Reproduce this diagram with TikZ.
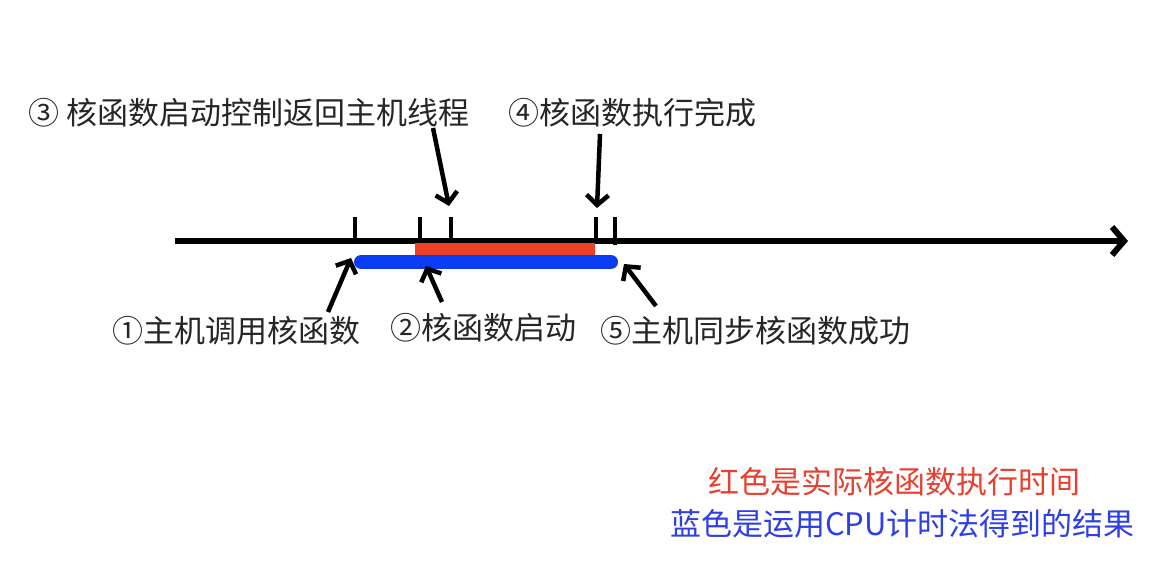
\documentclass[tikz,border=0pt]{standalone}
\usepackage{fontspec}
\newfontfamily\cjk{Noto Sans CJK SC}
\usetikzlibrary{arrows.meta}
\definecolor{kred}{HTML}{EA4127}
\definecolor{kblue}{HTML}{0A3CF5}
\definecolor{tred}{HTML}{E8402E}
\definecolor{tblue}{HTML}{2F3FE8}
\tikzset{
  lbl/.style={inner sep=0pt, anchor=west, font=\cjk\fontsize{31}{37}\selectfont, text=black!85},
  tick/.style={line width=4pt},
  ptr/.style={line width=4.5pt, -{Straight Barb[length=10pt,width=22pt,line width=4.5pt]}},
}
\begin{document}
\begin{tikzpicture}[x=1pt,y=-1pt]
\useasboundingbox[fill=white] (0,0) rectangle (1166,580);
% main axis
\coordinate (ax0) at (175,241);
\coordinate (ax1) at (1128,241);
\draw[line width=6pt, -{Straight Barb[length=12pt,width=28pt,line width=6pt]}] (ax0) -- (ax1);
% bars
\coordinate (b0) at (361,262);
\coordinate (b1) at (611,262);
\fill[kred] (415,243) rectangle (595,255);
\draw[kblue, line width=14pt, line cap=round] (b0) -- (b1);
% ticks
\foreach \x in {355,420,451,596}{\draw[tick] (\x,217) -- (\x,241);}
\draw[tick] (615,217) -- (615,245);
% labels
\node[lbl] (t3) at (28,113) {③ 核函数启动控制返回主机线程};
\node[lbl] (t4) at (508,113) {④核函数执行完成};
\node[lbl] (t1) at (112,331) {①主机调用核函数};
\node[lbl] (t2) at (390,328) {②核函数启动};
\node[lbl] (t5) at (600,331) {⑤主机同步核函数成功};
\node[lbl, text=tred] (lr) at (708,482) {红色是实际核函数执行时间};
\node[lbl, text=tblue] (lb) at (670,524) {蓝色是运用CPU计时法得到的结果};
% pointers
\coordinate (p3a) at (433,128);
\coordinate (p3b) at (449,206);
\coordinate (p4a) at (600,134);
\coordinate (p4b) at (597,208);
\coordinate (p1a) at (328,312);
\coordinate (p1b) at (351,258);
\coordinate (p2a) at (442,302);
\coordinate (p2b) at (426,266);
\coordinate (p5a) at (656,306);
\coordinate (p5b) at (624,264);
\draw[ptr] (p3a) -- (p3b);
\draw[ptr] (p4a) -- (p4b);
\draw[ptr] (p1a) -- (p1b);
\draw[ptr] (p2a) -- (p2b);
\draw[ptr] (p5a) -- (p5b);
\end{tikzpicture}
\end{document}
